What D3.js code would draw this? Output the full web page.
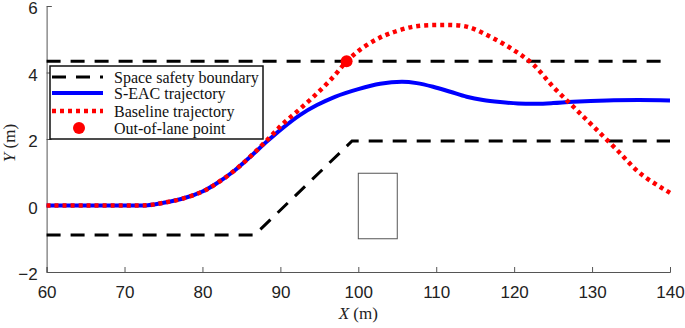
<!DOCTYPE html>
<html>
<head>
<meta charset="utf-8">
<script src="https://cdn.jsdelivr.net/npm/d3@7"></script>
<style>
  body { margin: 0; background: #fff; }
  .tick text { font-family: "Liberation Sans", Arial, sans-serif; font-size: 17px; fill: #222; }
  .legend text { font-family: "Liberation Serif", "Times New Roman", serif; font-size: 16px; fill: #111; }
  .axis-label { font-family: "Liberation Serif", "Times New Roman", serif; font-size: 17px; fill: #222; }
</style>
</head>
<body>
<div id="chart"></div>
<script>
// tick values
const xTicks = [60, 70, 80, 90, 100, 110, 120, 130, 140];
const yTicks = [-2, 0, 2, 4, 6];

// space safety boundary (upper and lower lane edge)
const upperBoundX = [60, 140];
const upperBoundY = [4.34, 4.34];
const lowerBoundX = [60, 86.7, 99.2, 140];
const lowerBoundY = [-0.885, -0.885, 1.94, 1.94];

// obstacle box [x0, x1, y0, y1]
const obstacle = [100, 105, -1, 0.97];

// S-EAC trajectory
const seacX = [60, 65, 70, 73, 75, 77.5, 80, 81.8, 84, 86.1, 88.3, 90.4, 92.5, 94.7, 97, 100, 102.8, 105.6, 107.5, 109.6, 111.8, 113.9, 116, 118.2, 120.5, 122.9, 125, 127.6, 131.9, 136, 140];
const seacY = [0, 0, 0, 0.01, 0.08, 0.21, 0.42, 0.66, 1.03, 1.46, 1.93, 2.35, 2.72, 3.02, 3.27, 3.5, 3.66, 3.72, 3.68, 3.57, 3.42, 3.27, 3.17, 3.11, 3.07, 3.06, 3.08, 3.12, 3.16, 3.17, 3.16];

// baseline trajectory
const baseX = [60, 65, 70, 73, 75, 77.5, 80, 81.8, 84, 86.1, 88.3, 90.4, 92.5, 94.7, 96.8, 98.5, 100.2, 102.2, 104.1, 107.1, 110.5, 113.9, 116.9, 119.9, 122.5, 125, 127.6, 130.2, 133.2, 136.2, 140];
const baseY = [0, 0, 0, 0.01, 0.08, 0.21, 0.42, 0.66, 1.03, 1.46, 1.97, 2.47, 2.9, 3.37, 3.87, 4.33, 4.68, 4.98, 5.18, 5.38, 5.43, 5.38, 5.08, 4.68, 4.23, 3.57, 2.97, 2.37, 1.67, 0.96, 0.38];

// out-of-lane point
const outPoint = [98.5, 4.34];

const legendLabels = ["Space safety boundary", "S-EAC trajectory", "Baseline trajectory", "Out-of-lane point"];

const W = 685, H = 328;
const margin = { top: 6, right: 15, bottom: 56, left: 46.6 };
const width = W - margin.left - margin.right;
const height = H - margin.top - margin.bottom;

const svg = d3.select("#chart").append("svg")
    .attr("width", W)
    .attr("height", H);

const g = svg.append("g")
    .attr("transform", `translate(${margin.left},${margin.top})`);

const x = d3.scaleLinear().domain([60, 140]).range([0, width]);
const y = d3.scaleLinear().domain([-2, 6]).range([height, 0]);

// axes (ticks point inwards)
const xAxis = g.append("g")
    .attr("transform", `translate(0,${height})`)
    .call(d3.axisBottom(x).tickValues(xTicks).tickSize(-5).tickPadding(14).tickFormat(d3.format("d")));
const yAxis = g.append("g")
    .call(d3.axisLeft(y).tickValues(yTicks).tickSize(-5).tickPadding(9).tickFormat(d3.format("d")));
[xAxis, yAxis].forEach(a => {
    a.select(".domain").attr("stroke", "#555").attr("stroke-width", 1);
    a.selectAll(".tick line").attr("stroke", "#555");
});
xAxis.selectAll(".tick text").attr("dy", "0.71em").attr("y", 14);
yAxis.selectAll(".tick text").attr("dy", "0.45em");

// axis labels
g.append("text")
    .attr("class", "axis-label")
    .attr("text-anchor", "middle")
    .attr("x", x(100))
    .attr("y", height + 47)
    .html('<tspan font-style="italic">X</tspan> (m)');

g.append("text")
    .attr("class", "axis-label")
    .attr("text-anchor", "middle")
    .attr("transform", "rotate(-90)")
    .attr("x", -(y(2) + 4))
    .attr("y", -32)
    .html('<tspan font-style="italic">Y</tspan> (m)');

// obstacle
g.append("rect")
    .attr("x", x(obstacle[0]))
    .attr("y", y(obstacle[3]))
    .attr("width", x(obstacle[1]) - x(obstacle[0]))
    .attr("height", y(obstacle[2]) - y(obstacle[3]))
    .attr("fill", "none")
    .attr("stroke", "#555")
    .attr("stroke-width", 1);

const line = d3.line().x(d => x(d[0])).y(d => y(d[1]));
const smooth = d3.line().x(d => x(d[0])).y(d => y(d[1])).curve(d3.curveCatmullRom);

const dashStyle = { stroke: "#000", width: 3, dash: "14,10" };

[[upperBoundX, upperBoundY], [lowerBoundX, lowerBoundY]].forEach(([xs, ys]) => {
    g.append("path")
        .datum(xs.map((v, i) => [v, ys[i]]))
        .attr("d", line)
        .attr("fill", "none")
        .attr("stroke", dashStyle.stroke)
        .attr("stroke-width", dashStyle.width)
        .attr("stroke-dasharray", dashStyle.dash);
});

// S-EAC trajectory
g.append("path")
    .datum(seacX.map((v, i) => [v, seacY[i]]))
    .attr("d", smooth)
    .attr("fill", "none")
    .attr("stroke", "#0000ff")
    .attr("stroke-width", 4);

// baseline trajectory
g.append("path")
    .datum(baseX.map((v, i) => [v, baseY[i]]))
    .attr("d", smooth)
    .attr("fill", "none")
    .attr("stroke", "#ff0000")
    .attr("stroke-width", 4.5)
    .attr("stroke-dasharray", "4,4");

g.append("circle")
    .attr("cx", x(outPoint[0]))
    .attr("cy", y(outPoint[1]))
    .attr("r", 6)
    .attr("fill", "#ff0000");

// legend
const legend = svg.append("g").attr("class", "legend").attr("transform", "translate(50,66)");
legend.append("rect")
    .attr("width", 213).attr("height", 73)
    .attr("fill", "#fff").attr("stroke", "#111").attr("stroke-width", 1.5);

const rowY = [11, 27, 45, 62];
legendLabels.forEach((lab, i) => {
    const ry = rowY[i];
    if (i === 0) {
        legend.append("line").attr("x1", 2).attr("x2", 53).attr("y1", ry).attr("y2", ry)
            .attr("stroke", "#000").attr("stroke-width", 3).attr("stroke-dasharray", "14,10");
    } else if (i === 1) {
        legend.append("line").attr("x1", 2).attr("x2", 53).attr("y1", ry).attr("y2", ry)
            .attr("stroke", "#0000ff").attr("stroke-width", 4);
    } else if (i === 2) {
        legend.append("line").attr("x1", 2).attr("x2", 53).attr("y1", ry).attr("y2", ry)
            .attr("stroke", "#ff0000").attr("stroke-width", 4.5).attr("stroke-dasharray", "4,4");
    } else {
        legend.append("circle").attr("cx", 29).attr("cy", ry).attr("r", 6).attr("fill", "#ff0000");
    }
    legend.append("text")
        .attr("x", 64)
        .attr("y", ry)
        .attr("dy", "0.35em")
        .text(lab);
});
</script>
</body>
</html>
